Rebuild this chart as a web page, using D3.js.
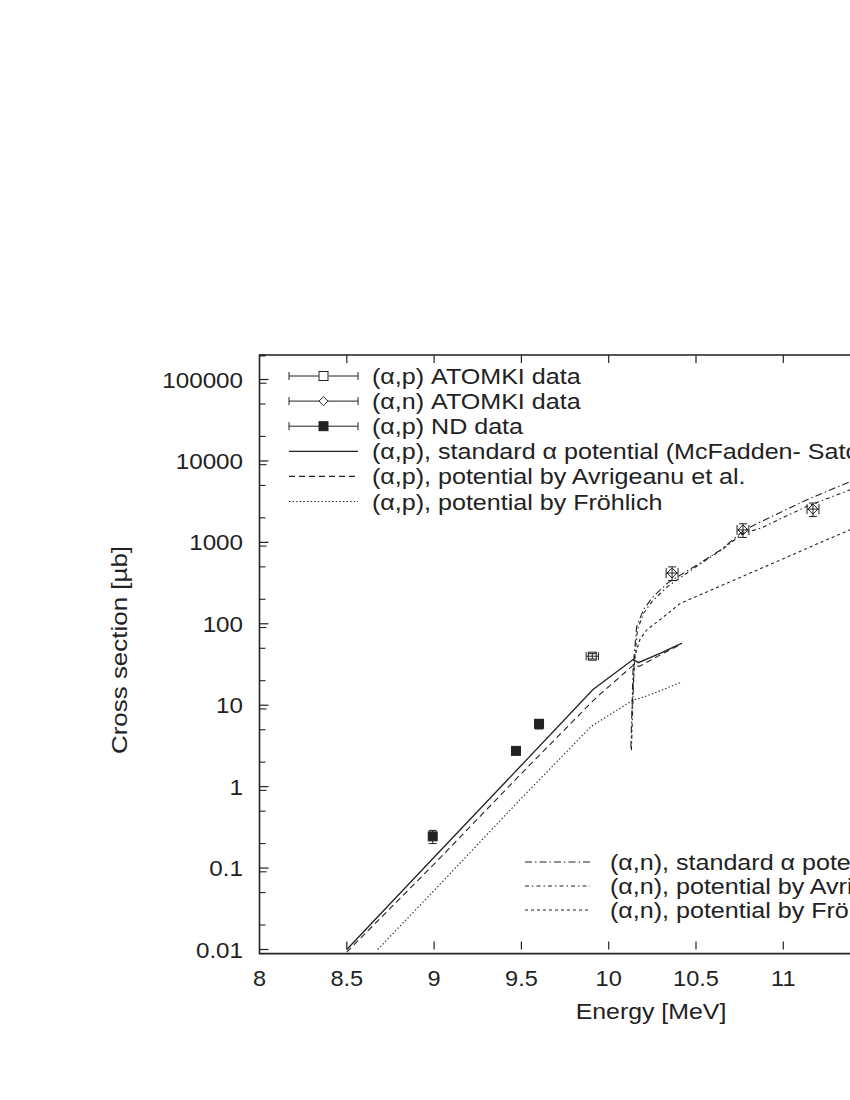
<!DOCTYPE html>
<html>
<head>
<meta charset="utf-8">
<script src="https://cdn.jsdelivr.net/npm/d3@7"></script>
<style>
  body { margin: 0; background: #fff; }
  svg { display: block; font-family: "Liberation Sans", Arial, sans-serif; }
</style>
</head>
<body>
<div id="chart"></div>
<script>
// tick values / labels
const xTicks = [8, 8.5, 9, 9.5, 10, 10.5, 11];
const xTickLabels = ["8", "8.5", "9", "9.5", "10", "10.5", "11"];
const yTicks = [0.01, 0.1, 1, 10, 100, 1000, 10000, 100000];
const yTickLabels = ["0.01", "0.1", "1", "10", "100", "1000", "10000", "100000"];

// measured points [energy, sigma, dE, dSigma]
const apAtomki = [[9.906, 40, 0.035, 3]];
const anAtomki = [[10.363, 420, 0.034, 80], [10.769, 1420, 0.034, 270], [11.17, 2560, 0.034, 480]];
const apND = [[8.992, 0.245, 0, 0.045], [9.469, 2.75, 0, 0.2], [9.601, 5.9, 0, 0.8]];

// calculations [energy, sigma]
const apStandard = [[8.5, 0.01], [9.0, 0.136], [9.5, 1.83], [9.91, 15.6], [10.0, 21.7], [10.14, 36.5],
  [10.17, 33.3], [10.3, 44], [10.42, 58]];
const apAvrigeanu = [[8.5, 0.0093], [9.0, 0.112], [9.5, 1.45], [9.93, 12.5], [10.0, 16.9], [10.145, 31.5],
  [10.175, 30], [10.3, 42], [10.42, 57]];
const apFrohlich = [[8.677, 0.01], [9.0, 0.053], [9.5, 0.72], [9.9, 5.5], [10.0, 7.5], [10.14, 11.6],
  [10.2, 12.6], [10.3, 15.2], [10.42, 19.4]];
const anStandard = [[10.127, 3], [10.14, 30], [10.16, 92], [10.2, 150], [10.25, 210], [10.34, 320],
  [10.5, 520], [10.65, 830], [10.77, 1380], [10.87, 1790], [11.13, 3300], [11.38, 5540], [11.42, 5900]];
const anAvrigeanu = [[10.13, 2.8], [10.145, 30], [10.165, 85], [10.2, 135], [10.25, 190], [10.34, 290],
  [10.5, 500], [10.65, 820], [10.77, 1290], [10.87, 1490], [11.13, 2740], [11.38, 4400], [11.42, 4700]];
const anFrohlich = [[10.133, 8], [10.15, 40], [10.18, 65], [10.22, 85], [10.3, 115], [10.41, 178],
  [10.8, 410], [11.0, 630], [11.2, 970], [11.4, 1480]];

const legendTop = [
  "(α,p) ATOMKI data",
  "(α,n) ATOMKI data",
  "(α,p) ND data",
  "(α,p), standard α potential (McFadden- Satchler)",
  "(α,p), potential by Avrigeanu et al.",
  "(α,p), potential by Fröhlich"
];
const legendBottom = [
  "(α,n), standard α potential (McFadden- Satchler)",
  "(α,n), potential by Avrigeanu et al.",
  "(α,n), potential by Fröhlich"
];

const W = 850, H = 1100;
const ink = "#222";

const svg = d3.select("#chart").append("svg")
  .attr("width", W).attr("height", H);

// text in a slightly wide face, like the original print
function label(g, tx, ty, str, anchor, sx, rot) {
  return g.append("text")
    .attr("transform", `translate(${tx},${ty})${rot ? " rotate(" + rot + ")" : ""} scale(${sx},1)`)
    .attr("text-anchor", anchor).attr("font-size", 22).attr("fill", ink)
    .text(str);
}

const x = d3.scaleLinear().domain([8, 11.5]).range([259.5, 870.6]);
const y = d3.scaleLog().domain([0.01, 100000]).range([949.5, 379.5]);

const pLeft = x(8), pRight = x(12), pTop = y(200000), pBottom = y(0.0089);

svg.append("defs").append("clipPath").attr("id", "plot")
  .append("rect").attr("x", pLeft).attr("y", pTop)
  .attr("width", pRight - pLeft).attr("height", pBottom - pTop);

// frame
svg.append("path")
  .attr("d", `M${pRight},${pTop}H${pLeft}V${pBottom}H${pRight}`)
  .attr("fill", "none").attr("stroke", ink).attr("stroke-width", 1.6);

// x ticks (bottom and top, inward)
xTicks.forEach((t, i) => {
  if (i > 0) {
    svg.append("line").attr("x1", x(t)).attr("x2", x(t))
      .attr("y1", pBottom - 4).attr("y2", pBottom - 12)
      .attr("stroke", ink).attr("stroke-width", 1.2);
    svg.append("line").attr("x1", x(t)).attr("x2", x(t))
      .attr("y1", pTop).attr("y2", pTop + 8)
      .attr("stroke", ink).attr("stroke-width", 1.2);
  }
  label(svg, x(t), 986, xTickLabels[i], "middle", 1.07);
});

// y ticks: majors and minors
yTicks.forEach((t, i) => {
  svg.append("line").attr("x1", pLeft).attr("x2", pLeft + 9)
    .attr("y1", y(t)).attr("y2", y(t)).attr("stroke", ink).attr("stroke-width", 1.2);
  label(svg, 243, y(t) + 8, yTickLabels[i], "end", 1.1);
  [0.9, 2, 5].forEach(m => {
    const v = t * m;
    if (v < 0.0095 || v > 200000) return;
    svg.append("line").attr("x1", pLeft).attr("x2", pLeft + (m === 0.9 ? 7 : 6))
      .attr("y1", y(v)).attr("y2", y(v)).attr("stroke", ink).attr("stroke-width", 1.1);
  });
});
svg.append("line").attr("x1", pLeft).attr("x2", pLeft + 6)
  .attr("y1", y(200000) + 1).attr("y2", y(200000) + 1).attr("stroke", ink);

// axis titles
label(svg, 651, 1019, "Energy [MeV]", "middle", 1.13);
label(svg, 127, 650, "Cross section [µb]", "middle", 1.18, -90);

const plot = svg.append("g").attr("clip-path", "url(#plot)");

const line = d3.line().x(d => x(d[0])).y(d => y(d[1]));

const curves = [
  [apStandard, null, 1.3],
  [apAvrigeanu, "6,4", 1.1],
  [apFrohlich, "1.4,2.2", 1.1],
  [anStandard, "7,3,1.5,3", 1.1],
  [anAvrigeanu, "4,3,1.5,3", 1.1],
  [anFrohlich, "3,3", 1.1]
];
curves.forEach(([data, dash, w]) => {
  plot.append("path").datum(data).attr("d", line)
    .attr("fill", "none").attr("stroke", ink).attr("stroke-width", w)
    .attr("stroke-dasharray", dash);
});

// error bars + symbols
function errorBars(g, data, hcap) {
  data.forEach(d => {
    const cx = x(d[0]), cy = y(d[1]);
    if (d[2] > 0) {
      const x0 = x(d[0] - d[2]), x1 = x(d[0] + d[2]);
      g.append("path").attr("d", `M${x0},${cy}H${x1}M${x0},${cy - hcap}V${cy + hcap}M${x1},${cy - hcap}V${cy + hcap}`)
        .attr("stroke", ink).attr("stroke-width", 1).attr("fill", "none");
    }
    if (d[3] > 0) {
      const y0 = y(d[1] - d[3]), y1 = y(d[1] + d[3]);
      g.append("path").attr("d", `M${cx},${y0}V${y1}M${cx - 4},${y0}H${cx + 4}M${cx - 4},${y1}H${cx + 4}`)
        .attr("stroke", ink).attr("stroke-width", 1).attr("fill", "none");
    }
  });
}
function square(g, cx, cy, s, filled) {
  g.append("rect").attr("x", cx - s / 2).attr("y", cy - s / 2).attr("width", s).attr("height", s)
    .attr("fill", filled ? ink : "none").attr("stroke", ink).attr("stroke-width", 1);
}
function diamond(g, cx, cy, s) {
  g.append("path").attr("d", `M${cx},${cy - s}L${cx + s},${cy}L${cx},${cy + s}L${cx - s},${cy}Z`)
    .attr("fill", "none").attr("stroke", ink).attr("stroke-width", 1);
}

errorBars(plot, apAtomki, 4);
apAtomki.forEach(d => square(plot, x(d[0]), y(d[1]), 8, false));
errorBars(plot, anAtomki, 5);
anAtomki.forEach(d => diamond(plot, x(d[0]), y(d[1]), 5));
errorBars(plot, apND, 3);
apND.forEach(d => square(plot, x(d[0]), y(d[1]), 9, true));

// top legend
const lgX0 = 289, lgX1 = 358, lgTxt = 372;
legendTop.forEach((txt, i) => {
  const ly = 376 + i * 25.1;
  const g = svg.append("g");
  if (i < 3) {
    g.append("path").attr("d", `M${lgX0},${ly}H${lgX1}M${lgX0},${ly - 4}V${ly + 4}M${lgX1},${ly - 4}V${ly + 4}`)
      .attr("stroke", ink).attr("stroke-width", 1).attr("fill", "none");
    const mx = (lgX0 + lgX1) / 2;
    if (i === 0) { g.append("rect").attr("x", mx - 5).attr("y", ly - 5).attr("width", 10).attr("height", 10).attr("fill", "#fff"); square(g, mx, ly, 9, false); }
    if (i === 1) { g.append("rect").attr("x", mx - 4).attr("y", ly - 4).attr("width", 8).attr("height", 8).attr("fill", "#fff"); diamond(g, mx, ly, 4.5); }
    if (i === 2) square(g, mx, ly, 9, true);
  } else {
    const c = curves[i - 3];
    g.append("line").attr("x1", lgX0).attr("x2", lgX1).attr("y1", ly).attr("y2", ly)
      .attr("stroke", ink).attr("stroke-width", c[2]).attr("stroke-dasharray", c[1]);
  }
  label(g, lgTxt, ly + 8, txt, "start", 1.14);
});

// bottom legend
legendBottom.forEach((txt, i) => {
  const ly = 862 + i * 24;
  const c = curves[i + 3];
  svg.append("line").attr("x1", 525).attr("x2", 590).attr("y1", ly).attr("y2", ly)
    .attr("stroke", ink).attr("stroke-width", c[2]).attr("stroke-dasharray", c[1]);
  label(svg, 610, ly + 8, txt, "start", 1.14);
});
</script>
</body>
</html>
